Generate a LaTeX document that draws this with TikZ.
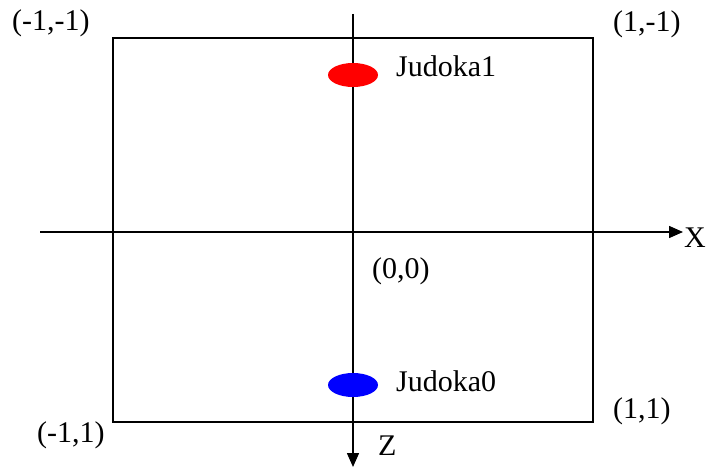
\documentclass[tikz,border=0pt]{standalone}
\usepackage{fontspec}
\setmainfont{Liberation Serif}
\usetikzlibrary{arrows.meta,shapes.geometric}
\begin{document}
\begin{tikzpicture}[x=1pt,y=-1pt,
  lbl/.style={anchor=base west,inner sep=0pt,font=\fontsize{30}{36}\selectfont},
  axis/.style={line width=1.5pt,-{Triangle[length=14pt,width=12pt]}},
  frame/.style={line width=1.3pt},
  judoka/.style={ellipse,minimum width=50pt,minimum height=24pt,inner sep=0pt}]
\useasboundingbox (0,0) rectangle (706,468);
% frame
\coordinate (tl) at (113,38);
\coordinate (br) at (593,422);
\draw[frame] (tl) rectangle (br);
% axes
\coordinate (xs) at (40,232);
\coordinate (xe) at (683,232);
\coordinate (zs) at (353,14);
\coordinate (ze) at (353,467);
\draw[axis] (xs) -- (xe);
\draw[axis] (zs) -- (ze);
% judokas
\node[judoka,fill=red] (j1) at (353,75) {};
\node[judoka,fill=blue] (j0) at (353,385) {};
% labels
\node[lbl] (lmm) at (12,31) {(-1,-1)};
\node[lbl] (lpm) at (613,32) {(1,-1)};
\node[lbl] (lj1) at (396,77) {Judoka1};
\node[lbl] (l00) at (372,278) {(0,0)};
\node[lbl] (lj0) at (396,391) {Judoka0};
\node[lbl] (lpp) at (613,418) {(1,1)};
\node[lbl] (lmp) at (37,442) {(-1,1)};
\node[lbl] (lx) at (684,247) {X};
\node[lbl] (lz) at (378,455) {Z};
\end{tikzpicture}
\end{document}
